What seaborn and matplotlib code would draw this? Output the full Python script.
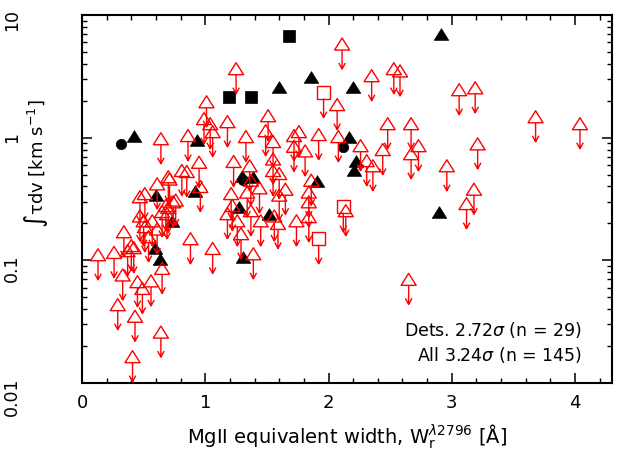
import numpy as np
import pandas as pd
import matplotlib
matplotlib.use("Agg")
import matplotlib.pyplot as plt
from matplotlib.path import Path
from matplotlib.ticker import MultipleLocator, LogLocator, NullFormatter
import seaborn as sns

# ---------------- data ----------------
# detections: filled black symbols
det_tri_x = [0.42, 1.60, 1.86, 2.91, 2.20, 0.93, 2.17, 2.22, 2.21, 2.90, 1.91,
             0.60, 0.73, 0.59, 0.63, 0.92, 1.30, 1.39, 1.27, 1.52, 1.31]
det_tri_y = [1.04, 2.6, 3.1, 7.0, 2.6, 0.95, 1.02, 0.64, 0.54, 0.25, 0.44,
             0.34, 0.21, 0.127, 0.103, 0.37, 0.49, 0.48, 0.27, 0.24, 0.107]
det_sq_x = [1.19, 1.37, 1.68]
det_sq_y = [2.16, 2.16, 6.8]
det_circ_x = [0.32, 2.12, 1.31]
det_circ_y = [0.88, 0.84, 0.45]

# upper limits: open red symbols with downward arrows
ul_tri_x = [2.11, 2.35, 2.53, 2.58, 3.06, 3.19, 3.68, 4.04, 2.07, 2.08, 2.26, 2.48,
            2.67, 2.73, 2.67, 2.44, 2.31, 2.36, 3.21, 2.96, 3.18, 2.14, 3.12, 2.65,
            1.25, 1.01, 0.99, 1.04, 1.06, 1.51, 1.49, 1.18, 0.64, 0.86, 1.33, 1.55,
            1.72, 1.76, 1.92, 1.72, 1.81, 0.95, 1.23, 1.36, 1.55, 1.55, 1.60, 0.81,
            0.85, 0.70, 0.61, 1.86, 1.44, 1.21, 1.34, 1.65, 0.47, 0.51, 0.68, 0.96,
            1.84, 1.60, 1.37, 1.18, 1.37, 1.26, 1.29, 1.45, 1.56, 1.59, 1.74, 1.84,
            1.84, 1.39, 1.06, 0.88, 1.22,
            0.13, 0.26, 0.37, 0.34, 0.40, 0.42, 0.33, 0.45, 0.49, 0.56, 0.65, 0.29,
            0.43, 0.64, 0.41, 0.47, 0.50, 0.51, 0.54, 0.65, 0.69, 0.74, 0.61, 0.70,
            0.57, 0.76, 0.71]
ul_tri_y = [5.8, 3.2, 3.65, 3.5, 2.46, 2.55, 1.48, 1.30, 1.86, 1.02, 0.86, 1.30,
            1.30, 0.86, 0.74, 0.80, 0.65, 0.59, 0.89, 0.59, 0.38, 0.254, 0.29, 0.070,
            3.65, 1.96, 1.43, 1.30, 1.12, 1.51, 1.14, 1.35, 0.98, 1.04, 1.02, 0.93,
            1.04, 1.12, 1.06, 0.85, 0.78, 0.63, 0.64, 0.59, 0.67, 0.54, 0.51, 0.54,
            0.53, 0.48, 0.42, 0.45, 0.39, 0.35, 0.36, 0.38, 0.33, 0.35, 0.28, 0.40,
            0.36, 0.34, 0.45, 0.24, 0.254, 0.21, 0.165, 0.21, 0.23, 0.20, 0.21, 0.30,
            0.227, 0.113, 0.125, 0.150, 0.28,
            0.111, 0.116, 0.12, 0.171, 0.132, 0.127, 0.076, 0.067, 0.059, 0.068, 0.086, 0.0435,
            0.035, 0.026, 0.0164, 0.23, 0.21, 0.188, 0.156, 0.25, 0.24, 0.30, 0.18, 0.27,
            0.21, 0.31, 0.46]
ul_sq_x = [1.96, 2.12, 1.92]
ul_sq_y = [2.33, 0.274, 0.150]

x_ticks = [0, 1, 2, 3, 4]
x_tick_labels = ["0", "1", "2", "3", "4"]
y_ticks = [0.01, 0.1, 1, 10]
y_tick_labels = ["0.01", "0.1", "1", "10"]
stat_lines = [r"Dets. 2.72$\sigma$ (n = 29)", r"All 3.24$\sigma$ (n = 145)"]

# ---------------- style ----------------
sns.set_theme(style="ticks")
plt.rcParams['font.family'] = ['DejaVu Sans']
plt.rcParams['mathtext.fontset'] = 'dejavusans'
plt.rcParams['text.color'] = 'black'
plt.rcParams['axes.labelcolor'] = 'black'
plt.rcParams['xtick.color'] = 'black'
plt.rcParams['ytick.color'] = 'black'

RED = "#ff0000"
M, L, C = Path.MOVETO, Path.LINETO, Path.CLOSEPOLY
tri_path = Path([(-1, -0.8), (1, -0.8), (0, 0.8), (-1, -0.8)], [M, L, L, C])
arrow_path = Path([(0, -0.24), (0, -1), (-0.13, -0.76), (0, -1), (0.13, -0.76)],
                  [M, L, M, L, L])

fig = plt.figure(figsize=(6.19, 4.64), dpi=100)
ax = fig.add_axes([82 / 619, 1 - 384 / 464, 530 / 619, 368 / 464])
ax.set_yscale("log")

# detections
sns.scatterplot(x=det_tri_x, y=det_tri_y, ax=ax, marker=tri_path, s=110,
                color="black", edgecolor="black", linewidth=0.5, zorder=2)
sns.scatterplot(x=det_sq_x, y=det_sq_y, ax=ax, marker="s", s=64,
                color="black", edgecolor="black", linewidth=0.5, zorder=2)
sns.scatterplot(x=det_circ_x, y=det_circ_y, ax=ax, marker="o", s=56,
                color="black", edgecolor="black", linewidth=0.5, zorder=2)

# upper limits
sns.scatterplot(x=ul_tri_x, y=ul_tri_y, ax=ax, marker=tri_path, s=117,
                facecolor="none", edgecolor=RED, linewidth=1.0, zorder=3)
sns.scatterplot(x=ul_sq_x, y=ul_sq_y, ax=ax, marker="s", s=88,
                facecolor="none", edgecolor=RED, linewidth=1.0, zorder=3)
sns.scatterplot(x=ul_tri_x + ul_sq_x, y=ul_tri_y + ul_sq_y, ax=ax, marker=arrow_path,
                s=1296, facecolor="none", edgecolor=RED, linewidth=1.0, zorder=3)

ax.set_xlim(0, 4.3)
ax.set_ylim(0.01, 10)

ax.set_xticks(x_ticks, x_tick_labels)
ax.xaxis.set_minor_locator(MultipleLocator(0.2))
ax.set_yticks(y_ticks, y_tick_labels)
ax.yaxis.set_minor_locator(LogLocator(base=10, subs=np.arange(2, 10)))
ax.yaxis.set_minor_formatter(NullFormatter())

ax.tick_params(which="major", direction="in", length=7.2, width=1.1,
               top=True, right=True, labelsize=12.5, colors="black")
ax.tick_params(which="minor", direction="in", length=3.6, width=1.0,
               top=True, right=True, colors="black")
ax.tick_params(axis="y", which="major", labelrotation=90, pad=44)
ax.tick_params(axis="x", which="major", pad=7.5, labelsize=13)
for sp in ax.spines.values():
    sp.set_linewidth(1.5)
    sp.set_color("black")

ax.set_ylabel("\u222b\u03c4dv [km s$^{-1}$]", fontsize=13)
ax.yaxis.set_label_coords(-0.061, 0.60)
ax.set_xlabel(r"MgII equivalent width, W$_\mathrm{r}^{\lambda2796}$ [Å]", fontsize=14)
ax.xaxis.set_label_coords(0.5, -0.105)

ax.text(0.943, 0.147, stat_lines[0], ha="right", va="center",
        transform=ax.transAxes, fontsize=12.5)
ax.text(0.943, 0.079, stat_lines[1], ha="right", va="center",
        transform=ax.transAxes, fontsize=12.5)

fig.savefig("out.png", dpi=100)
